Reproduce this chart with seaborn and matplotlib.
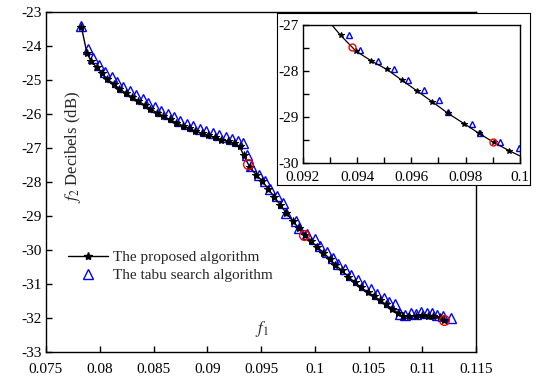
import numpy as np
import pandas as pd
import matplotlib
matplotlib.use("Agg")
import matplotlib.pyplot as plt
import seaborn as sns
from matplotlib.lines import Line2D

sns.set_theme(style="white")
plt.rcParams["font.family"] = ["Liberation Serif", "DejaVu Serif"]
plt.rcParams["mathtext.fontset"] = "stix"
plt.rcParams["axes.unicode_minus"] = False
plt.rcParams["font.size"] = 11

# ---- data ----
prop_f1 = [0.0783, 0.0788, 0.0792, 0.0797, 0.0802, 0.0807, 0.0813, 0.0818, 0.0824, 0.0830,
           0.0836, 0.0842, 0.0847, 0.0853, 0.0859, 0.0865, 0.0871, 0.0877, 0.0883, 0.0889,
           0.0895, 0.0901, 0.0907, 0.0913, 0.0919, 0.0925, 0.0930, 0.09339, 0.09395, 0.09453,
           0.09509, 0.09566, 0.09621, 0.09678, 0.09736, 0.09794, 0.09849, 0.09904, 0.09961, 0.1002,
           0.1008, 0.1014, 0.1019, 0.1025, 0.1031, 0.1037, 0.1043, 0.1049, 0.1055, 0.1061,
           0.1066, 0.1072, 0.1077, 0.1082, 0.1088, 0.1094, 0.1100, 0.1105, 0.1110, 0.1116,
           0.1120]
prop_f2 = [-23.45, -24.20, -24.45, -24.62, -24.80, -24.97, -25.12, -25.25, -25.38, -25.50,
           -25.62, -25.74, -25.85, -25.96, -26.06, -26.16, -26.25, -26.34, -26.42, -26.50,
           -26.57, -26.63, -26.69, -26.75, -26.80, -26.86, -26.95, -27.22, -27.56, -27.78,
           -27.96, -28.20, -28.43, -28.67, -28.92, -29.14, -29.35, -29.55, -29.73, -29.90,
           -30.08, -30.26, -30.43, -30.60, -30.78, -30.95, -31.10, -31.24, -31.36, -31.48,
           -31.60, -31.72, -31.85, -31.95, -31.95, -31.93, -31.92, -31.93, -31.94, -31.98,
           -32.05]

tabu_f1 = [0.0783, 0.0789, 0.0794, 0.0799, 0.0805, 0.0811, 0.0816, 0.0822, 0.0828, 0.0834,
           0.0840, 0.0845, 0.0851, 0.0857, 0.0863, 0.0869, 0.0875, 0.0881, 0.0887, 0.0893,
           0.0899, 0.0905, 0.0911, 0.0917, 0.0923, 0.0929, 0.0933, 0.0937, 0.0941, 0.09478,
           0.09537, 0.09586, 0.09646, 0.09703, 0.09736, 0.09824, 0.09855, 0.09926, 0.09998, 0.1005,
           0.1011, 0.1017, 0.1022, 0.1028, 0.1034, 0.1040, 0.1046, 0.1052, 0.1058, 0.1064,
           0.1069, 0.1075, 0.1079, 0.1084, 0.1089, 0.1094, 0.1099, 0.1104, 0.1109, 0.1114,
           0.1119, 0.1127]
tabu_f2 = [-23.40, -24.10, -24.35, -24.55, -24.75, -24.92, -25.07, -25.20, -25.33, -25.45,
           -25.56, -25.68, -25.80, -25.90, -26.00, -26.10, -26.20, -26.28, -26.36, -26.44,
           -26.50, -26.57, -26.63, -26.68, -26.74, -26.80, -26.85, -27.22, -27.53, -27.78,
           -27.96, -28.20, -28.40, -28.63, -28.90, -29.14, -29.34, -29.54, -29.68, -29.88,
           -30.05, -30.22, -30.40, -30.55, -30.72, -30.88, -31.02, -31.15, -31.28, -31.40,
           -31.52, -31.60, -31.88, -31.90, -31.85, -31.87, -31.83, -31.86, -31.84, -31.90,
           -31.95, -32.00]

# highlighted solutions (red circles)
mark_f1 = [0.0938, 0.0990, 0.1120]
mark_f2 = [-27.48, -29.55, -32.05]

main_xticks = [0.075, 0.08, 0.085, 0.09, 0.095, 0.1, 0.105, 0.11, 0.115]
main_yticks = [-33, -32, -31, -30, -29, -28, -27, -26, -25, -24, -23]
ins_xticks = [0.092, 0.094, 0.096, 0.098, 0.1]
ins_yticks = [-30, -29, -28, -27]

df_p = pd.DataFrame({"f1": prop_f1, "f2": prop_f2})
df_t = pd.DataFrame({"f1": tabu_f1, "f2": tabu_f2})
df_m = pd.DataFrame({"f1": mark_f1, "f2": mark_f2})


def draw(ax, ms_star, ms_tri, ms_circ, lw):
    sns.lineplot(data=df_p, x="f1", y="f2", ax=ax, color="black", lw=lw,
                 marker="*", markersize=ms_star, markeredgecolor="black",
                 sort=False, estimator=None, zorder=3)
    ax.plot(df_t["f1"], df_t["f2"], ls="none", marker="^", markersize=ms_tri,
            markerfacecolor="none", markeredgecolor="blue", markeredgewidth=1.0, zorder=2)
    ax.plot(df_m["f1"], df_m["f2"], ls="none", marker="o", markersize=ms_circ,
            markerfacecolor="none", markeredgecolor="red", markeredgewidth=1.0, zorder=4)


fig = plt.figure(figsize=(5.38, 3.81), dpi=100)
ax = fig.add_axes([0.0855, 0.076, 0.7995, 0.8925])
draw(ax, 6, 7.5, 7, 1.0)
ax.set_xlim(0.075, 0.115)
ax.set_ylim(-33, -23)
ax.set_xticks(main_xticks)
ax.set_xticklabels([f"{v:g}" for v in main_xticks])
ax.set_yticks(main_yticks)
ax.set_yticklabels([f"{v:g}" for v in main_yticks])
ax.tick_params(direction="in", length=4, width=1, colors="black", labelsize=11,
               bottom=True, left=True, top=False, right=False, pad=3)
ax.tick_params(axis="x", pad=8)
for s in ax.spines.values():
    s.set_color("black")
    s.set_linewidth(1.0)
ax.set_xlabel("")
ax.set_ylabel("")
ax.text(0.502, 0.068, r"$f_1$", transform=ax.transAxes, ha="center", va="center", fontsize=12)
fig.text(73 / 538, 1 - 147 / 381, r"$f_2$ Decibels (dB)", rotation=90,
         ha="center", va="center", fontsize=12)

handles = [
    Line2D([], [], color="black", lw=1.0, marker="*", markersize=6),
    Line2D([], [], ls="none", marker="^", markersize=7.5, markerfacecolor="none",
           markeredgecolor="blue"),
]
ax.legend(handles, ["The proposed algorithm", "The tabu search algorithm"],
          loc="upper left", bbox_to_anchor=(0.02, 0.34), frameon=False,
          fontsize=11, handlelength=2.6, handletextpad=0.3, labelspacing=0.3)

# white box behind the inset
box = fig.add_axes([0.515, 0.514, 0.470, 0.451])
box.set_xticks([])
box.set_yticks([])
box.set_facecolor("white")
for s in box.spines.values():
    s.set_color("black")
    s.set_linewidth(0.8)

ins = fig.add_axes([0.563, 0.572, 0.403, 0.362])
draw(ins, 4, 4.5, 5, 0.9)
ins.set_xlim(0.092, 0.1)
ins.set_ylim(-30, -27)
ins.set_xticks(ins_xticks)
ins.set_xticklabels([f"{v:g}" for v in ins_xticks])
ins.set_xticks(np.arange(0.092, 0.1005, 0.001), minor=True)
ins.set_yticks(ins_yticks)
ins.set_yticklabels([f"{v:g}" for v in ins_yticks])
ins.set_yticks(np.arange(-30, -26.9, 0.5), minor=True)
ins.tick_params(which="both", direction="in", length=4, width=1, colors="black",
                labelsize=11, bottom=True, left=True, top=False, right=False, pad=3)
ins.tick_params(axis="x", which="both", pad=6)
ins.set_xlabel("")
ins.set_ylabel("")
for s in ins.spines.values():
    s.set_color("black")
    s.set_linewidth(1.0)

fig.savefig("out.png", dpi=100)
